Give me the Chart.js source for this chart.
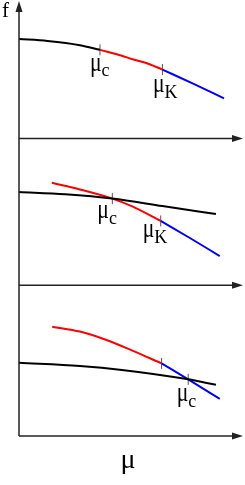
<!DOCTYPE html>
<html>
<head>
<meta charset="UTF-8">
<script src="https://cdn.jsdelivr.net/npm/chart.js@4"></script>
<style>
  html, body { margin: 0; padding: 0; background: #fff; }
  canvas { display: block; }
</style>
</head>
<body>
<canvas id="chart" width="245" height="485"></canvas>
<script>
// panel 1
const mu1Black = [0, 1.34, 2.86, 3.80];
const f1Black = [10.1, 9.9, 9.47, 9.0];
const mu1Red = [3.80, 4.83, 5.29, 5.97, 6.73];
const f1Red = [9.0, 8.4, 8.07, 7.67, 7.0];
const mu1Blue = [6.73, 8.17, 9.62];
const f1Blue = [7.0, 5.57, 4.07];

// panel 2
const mu2Black = [0, 2.17, 4.38, 6.73, 9.24];
const f2Black = [9.47, 9.23, 8.8, 8.04, 7.23];
const mu2Red = [1.54, 2.86, 4.38, 5.29, 6.65];
const f2Red = [10.4, 9.73, 8.8, 8.03, 6.53];
const mu2Blue = [6.65, 8.02, 9.42];
const f2Blue = [6.53, 4.8, 2.97];

// panel 3
const mu3Black = [0, 2.86, 4.83, 7.94, 9.24];
const f3Black = [7.43, 7.1, 6.7, 5.75, 5.2];
const mu3Red = [1.56, 2.86, 4.07, 5.29, 6.69];
const f3Red = [11.1, 10.6, 9.77, 8.7, 7.37];
const mu3Blue = [6.69, 7.94, 9.42];
const f3Blue = [7.37, 5.75, 3.77];

// tick marks on the curves
const markPanel = [1, 1, 2, 2, 3, 3];
const markMu = [3.80, 6.73, 4.38, 6.65, 6.69, 7.94];
const markF = [9.0, 7.0, 8.8, 6.53, 7.37, 5.75];
const markSub = ['c', 'K', 'c', 'K', null, 'c'];

// axis ranges
const muMax = 10.3;
const fMax = [13.4, 14.9, 15.3];

// label placement (px from the tick point): left of μ, baseline of μ
const labelDx = [-10, -9.5, -15, -18, 0, -11.5];
const labelDy = [21, 22.5, 19.5, 16.5, 0, 22];

const pts = (mu, f) => mu.map((m, i) => ({ x: m, y: f[i] }));

function curve(mu, f, color, panel) {
    return {
        data: pts(mu, f),
        showLine: true,
        borderColor: color,
        borderWidth: 2,
        pointRadius: 0,
        cubicInterpolationMode: 'monotone',
        yAxisID: 'y' + panel
    };
}

const datasets = [
    curve(mu1Black, f1Black, '#000', 1),
    curve(mu1Red, f1Red, '#ff0000', 1),
    curve(mu1Blue, f1Blue, '#0000ff', 1),
    curve(mu2Black, f2Black, '#000', 2),
    curve(mu2Red, f2Red, '#ff0000', 2),
    curve(mu2Blue, f2Blue, '#0000ff', 2),
    curve(mu3Black, f3Black, '#000', 3),
    curve(mu3Red, f3Red, '#ff0000', 3),
    curve(mu3Blue, f3Blue, '#0000ff', 3)
];

[1, 2, 3].forEach(p => {
    const idx = markPanel.map((q, i) => q === p ? i : -1).filter(i => i >= 0);
    datasets.push({
        data: idx.map(i => ({ x: markMu[i], y: markF[i] })),
        showLine: false,
        pointStyle: 'line',
        rotation: 90,
        pointRadius: 5.5,
        borderColor: '#555',
        borderWidth: 1,
        yAxisID: 'y' + p
    });
});

const axesPlugin = {
    id: 'axes',
    afterDraw(chart) {
        const ctx = chart.ctx;
        const xs = chart.scales.x;
        const x0 = xs.getPixelForValue(0);
        const right = chart.width - 2;
        const bottom = chart.scales.y3.getPixelForValue(0);
        ctx.save();
        ctx.strokeStyle = '#222';
        ctx.fillStyle = '#222';
        ctx.lineWidth = 1.5;

        // vertical f axis
        ctx.beginPath();
        ctx.moveTo(x0, bottom);
        ctx.lineTo(x0, 8);
        ctx.stroke();
        ctx.beginPath();
        ctx.moveTo(x0, 1);
        ctx.lineTo(x0 - 3.5, 12);
        ctx.lineTo(x0 + 3.5, 12);
        ctx.closePath();
        ctx.fill();

        // one μ axis per panel
        ['y1', 'y2', 'y3'].forEach(id => {
            const py = chart.scales[id].getPixelForValue(0);
            ctx.beginPath();
            ctx.moveTo(x0, py);
            ctx.lineTo(right - 6, py);
            ctx.stroke();
            ctx.beginPath();
            ctx.moveTo(right, py);
            ctx.lineTo(right - 11, py - 3.5);
            ctx.lineTo(right - 11, py + 3.5);
            ctx.closePath();
            ctx.fill();
        });

        // axis names
        ctx.fillStyle = '#000';
        ctx.textBaseline = 'alphabetic';
        ctx.font = '21px "Liberation Serif", serif';
        ctx.fillText('f', 2, 17);
        ctx.font = '28px "Liberation Serif", serif';
        ctx.textAlign = 'center';
        ctx.fillText('μ', 128, 468);

        // tick labels μc / μK
        ctx.textAlign = 'left';
        markMu.forEach((m, i) => {
            if (!markSub[i]) return;
            const px = xs.getPixelForValue(m);
            const py = chart.scales['y' + markPanel[i]].getPixelForValue(markF[i]);
            const lx = px + labelDx[i];
            const by = py + labelDy[i];
            ctx.save();
            ctx.translate(lx, by);
            ctx.scale(0.8, 1);
            ctx.font = '27px "Liberation Serif", serif';
            ctx.fillText('μ', 0, 0);
            const w = ctx.measureText('μ').width * 0.8;
            ctx.restore();
            ctx.font = '18px "Liberation Serif", serif';
            ctx.fillText(markSub[i], lx + w, by + 5.5);
        });
        ctx.restore();
    }
};

const panelScale = (i) => ({
    type: 'linear',
    position: 'right',
    stack: 'panels',
    stackWeight: fMax[i],
    min: 0,
    max: fMax[i],
    display: false
});

new Chart(document.getElementById('chart'), {
    type: 'scatter',
    data: { datasets },
    options: {
        responsive: false,
        devicePixelRatio: 1,
        animation: false,
        events: [],
        layout: { padding: { left: 19, right: 0, top: 0, bottom: 49 } },
        plugins: { legend: { display: false }, tooltip: { enabled: false } },
        scales: {
            x: { type: 'linear', min: 0, max: muMax, display: false },
            y1: panelScale(0),
            y2: panelScale(1),
            y3: panelScale(2)
        }
    },
    plugins: [axesPlugin]
});
</script>
</body>
</html>
